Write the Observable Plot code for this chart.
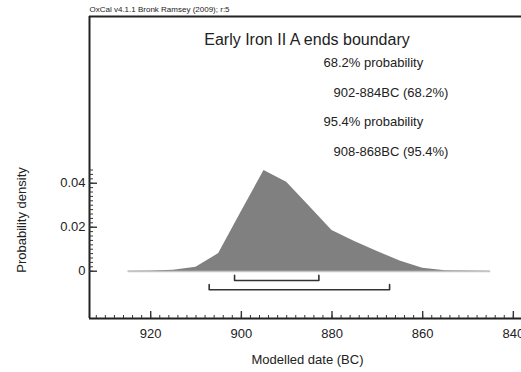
<!DOCTYPE html>
<html>
<head>
<meta charset="utf-8">
<script src="https://cdn.jsdelivr.net/npm/d3@7"></script>
<script src="https://cdn.jsdelivr.net/npm/@observablehq/plot@0.6"></script>
<style>
  html, body { margin: 0; padding: 0; background: #fff; overflow: hidden; }
  #chart svg { display: block; overflow: visible; }
</style>
</head>
<body>
<div id="chart"></div>
<script>
// ---- data ----
const years   = [925, 920, 915, 910, 905, 900, 895, 890, 885, 880, 875, 870, 865, 860, 855, 850, 845];
const density = [0, 0.0001, 0.0004, 0.0018, 0.008, 0.027, 0.0458, 0.0405, 0.0295, 0.0185, 0.0135, 0.009, 0.0046, 0.0013, 0.0002, 0.0001, 0];

const rangeLabels = ["68.2% probability", "902-884BC (68.2%)", "95.4% probability", "908-868BC (95.4%)"];
const range68 = [901.5, 882.9];
const range95 = [907.1, 867.3];
const bracketLevels = [-0.0042, -0.0084];

const xMajorTicks = [920, 900, 880, 860, 840];
const yMajorTicks = [0, 0.02, 0.04];

const chartTitle = "Early Iron II A ends boundary";
const caption = "OxCal v4.1.1 Bronk Ramsey (2009); r:5";
const xLabel = "Modelled date (BC)";
const yLabel = "Probability density";

// ---- scales ----
const xDomain = [933.5, 838.2];
const yDomain = [-0.0215, 0.1158];
const xMinorTicks = d3.range(932, 837, -2);
const yMinorTicks = d3.range(0, 0.0461, 0.002);

const dist = years.map((x, i) => ({x, y: density[i]}));
function bracket(r, level) {
  const h = 0.0023;
  return [
    {x: r[0], y: level + h},
    {x: r[0], y: level},
    {x: r[1], y: level},
    {x: r[1], y: level + h}
  ];
}
const ink = "#222";

const chart = Plot.plot({
  width: 521,
  height: 372,
  marginLeft: 89,
  marginRight: 0,
  marginTop: 16,
  marginBottom: 54,
  style: {fontFamily: "'Liberation Sans', Arial, sans-serif", fontSize: "13px", color: ink, background: "#fff", overflow: "visible"},
  x: {domain: xDomain, ticks: xMajorTicks, tickSize: 0, tickPadding: 10, tickFormat: d => String(d), label: null},
  y: {domain: yDomain, ticks: yMajorTicks, tickSize: 0, tickPadding: 4, tickFormat: d => d === 0 ? "0" : d.toFixed(2), label: null},
  marks: [
    // baseline outline of distribution
    Plot.ruleY([0], {x1: years[0], x2: years[years.length - 1], stroke: "#c4c4c4", strokeWidth: 2}),
    Plot.areaY(dist, {x: "x", y: "y", fill: "#808080", curve: "linear"}),
    // ranges
    Plot.line(bracket(range68, bracketLevels[0]), {x: "x", y: "y", stroke: "#333", strokeWidth: 1.6}),
    Plot.line(bracket(range95, bracketLevels[1]), {x: "x", y: "y", stroke: "#333", strokeWidth: 1.6}),
    // frame (left, top, bottom)
    Plot.ruleX([xDomain[0]], {stroke: "#222", strokeWidth: 2}),
    Plot.ruleY([yDomain[1]], {stroke: "#222", strokeWidth: 2}),
    Plot.ruleY([yDomain[0]], {stroke: "#222", strokeWidth: 2}),
    // x ticks (inward)
    Plot.tickX(xMinorTicks, {x: d => d, insetTop: 299, stroke: "#333", strokeWidth: 1}),
    Plot.tickX(xMajorTicks, {x: d => d, insetTop: 295, stroke: "#333", strokeWidth: 1.4}),
    // y ticks (inward)
    Plot.tickY(yMinorTicks, {y: d => d, insetRight: 428, stroke: "#333", strokeWidth: 1}),
    Plot.tickY(yMajorTicks, {y: d => d, insetRight: 424, stroke: "#333", strokeWidth: 1.4}),
    // texts
    Plot.text([caption], {text: d => d, frameAnchor: "top-left", textAnchor: "start", dy: -10, fontSize: 8, fill: ink}),
    Plot.text([chartTitle], {text: d => d, frameAnchor: "top-left", textAnchor: "middle", dx: 217.5, dy: 17.5, fontSize: 16, fill: ink}),
    Plot.text([rangeLabels[0]], {text: d => d, frameAnchor: "top-left", textAnchor: "start", dx: 234, dy: 41, fontSize: 13, fill: ink}),
    Plot.text([rangeLabels[1]], {text: d => d, frameAnchor: "top-left", textAnchor: "start", dx: 244, dy: 71, fontSize: 13, fill: ink}),
    Plot.text([rangeLabels[2]], {text: d => d, frameAnchor: "top-left", textAnchor: "start", dx: 234, dy: 100, fontSize: 13, fill: ink}),
    Plot.text([rangeLabels[3]], {text: d => d, frameAnchor: "top-left", textAnchor: "start", dx: 244, dy: 130, fontSize: 13, fill: ink}),
    Plot.text([xLabel], {text: d => d, frameAnchor: "bottom-left", textAnchor: "middle", dx: 218, dy: 45, fontSize: 13, fill: ink}),
    Plot.text([yLabel], {text: d => d, frameAnchor: "top-left", textAnchor: "middle", dx: -73, dy: 203.5, rotate: -90, fontSize: 13, fill: ink})
  ]
});
document.getElementById("chart").appendChild(chart);
</script>
</body>
</html>
